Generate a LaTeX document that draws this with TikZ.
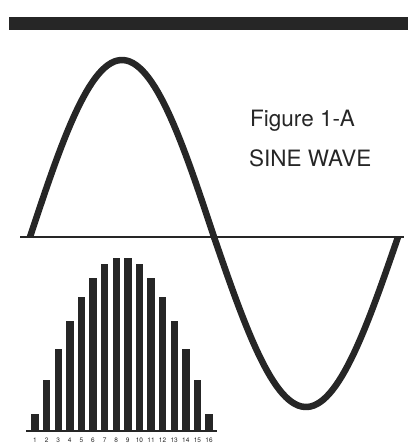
\documentclass[tikz,border=0pt]{standalone}
\usepackage{fontspec}
\newfontfamily\helv{TeX Gyre Heros}
\usetikzlibrary{positioning}

\begin{document}
\begin{tikzpicture}[
        x=1pt, y=-1pt,
        wave/.style={line width=6.5pt, black!85},
        axis/.style={line width=2.8pt, black!85},
        bar/.style={fill=black!85},
        caption/.style={font=\helv\fontsize{22.5}{26}\selectfont, text=black!85, anchor=base west, inner sep=0pt},
        binlabel/.style={font=\helv\fontsize{6.5}{7}\selectfont, text=black!85, inner sep=0pt}
        ]
        \useasboundingbox (0,0) rectangle (411,446);

        % Heavy rule across the top
        \fill[black!85] (9,17) rectangle (408,30);

        % Title text
        \node (fig) [caption] at (250,127) {Figure 1-A};
        \node (name) [caption] at (249,167) {SINE WAVE};

        % Zero line and one period of the wave
        \coordinate (axl) at (20,237);
        \coordinate (axr) at (404,237);
        \draw [axis] (axl) -- (axr);
        \draw [wave] plot[domain=0:180, samples=60] ({30+\x/90*92},{237-177*sin(\x)})
                  -- plot[domain=180:360, samples=60] ({30+\x/90*92},{237+170*sin(\x-180)});

        % Sampled bars with their numbers
        \coordinate (bl) at (26,431);
        \coordinate (br) at (217,431);
        \foreach \k in {1,...,16} {
            \fill [bar] ({35+(\k-1)*11.6-3.7},431) rectangle ({35+(\k-1)*11.6+3.7},{431-174*sin((\k-0.5)*180/16)});
            \node (n\k) [binlabel] at ({35+(\k-1)*11.6},440) {\k};
        }
        \draw [axis, line width=2.4pt] (bl) -- (br);

\end{tikzpicture}
\end{document}
